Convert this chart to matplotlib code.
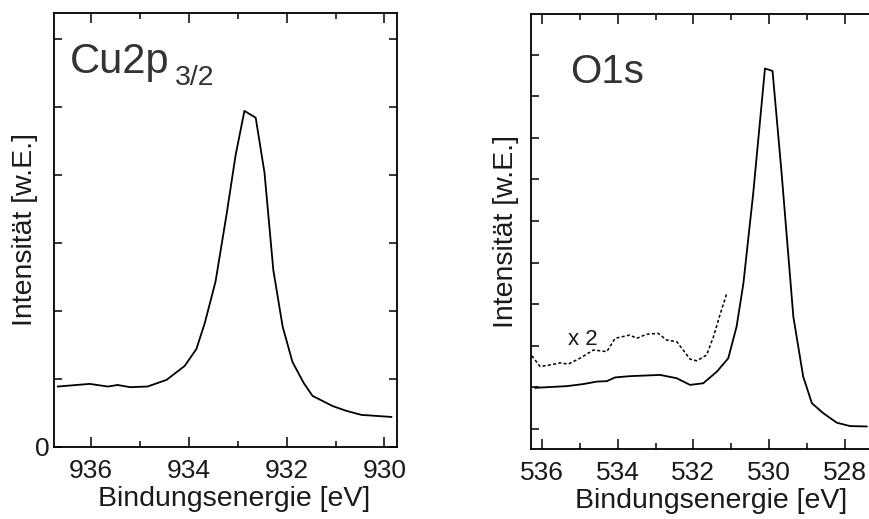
import numpy as np
import matplotlib
matplotlib.use('Agg')
import matplotlib.pyplot as plt
from matplotlib.ticker import MultipleLocator, FixedLocator, NullFormatter

plt.rcParams['font.family'] = ['Liberation Sans', 'DejaVu Sans']

# Cu2p3/2 spectrum
cu_energy = [936.67, 936.02, 935.65, 935.45, 935.2, 934.84, 934.45, 934.08, 933.84,
             933.67, 933.45, 933.22, 933.04, 932.86, 932.63, 932.45, 932.27, 932.08,
             931.88, 931.65, 931.47, 931.06, 930.78, 930.47, 929.86]
cu_int = [0.887, 0.926, 0.887, 0.91, 0.878, 0.887, 0.985, 1.19, 1.44,
          1.82, 2.43, 3.44, 4.29, 4.94, 4.84, 4.03, 2.60, 1.77,
          1.25, 0.94, 0.75, 0.60, 0.53, 0.47, 0.44]

# O1s spectrum
o_energy = [536.18, 535.35, 534.91, 534.55, 534.29, 534.07, 533.68, 532.88, 532.44,
            532.09, 531.74, 531.38, 531.08, 530.86, 530.68, 530.42, 530.11, 529.91,
            529.67, 529.36, 529.10, 528.87, 528.57, 528.21, 527.86, 527.42]
o_int = [1.47, 1.51, 1.56, 1.62, 1.63, 1.72, 1.75, 1.78, 1.70,
         1.54, 1.58, 1.86, 2.18, 2.94, 3.98, 6.15, 9.15, 9.09,
         6.63, 3.18, 1.74, 1.10, 0.86, 0.63, 0.55, 0.54]

# O1s satellite region, scaled x2
o2_energy = [536.27, 536.05, 535.79, 535.52, 535.31, 535.0, 534.64, 534.29, 534.07,
             533.68, 533.50, 533.23, 532.93, 532.71, 532.44, 532.09, 531.91, 531.65,
             531.47, 531.30, 531.12]
o2_int = [2.24, 1.98, 2.02, 2.07, 2.04, 2.18, 2.38, 2.34, 2.66,
          2.74, 2.66, 2.76, 2.78, 2.62, 2.58, 2.16, 2.12, 2.26,
          2.70, 3.22, 3.74]

txt = '#1a1a1a'
fig = plt.figure(figsize=(8.7, 5.19), dpi=100)


def style(ax, xlab_x, ylab_x, right=True):
    for s in ax.spines.values():
        s.set_linewidth(1.3)
    ax.tick_params(which='both', direction='in', top=True, right=right,
                   labelsize=19, colors='black', labelcolor=txt, width=1.1)
    ax.tick_params(which='major', length=7, pad=9)
    ax.tick_params(which='minor', length=4)
    ax.tick_params(axis='y', which='major', length=6)
    ax.set_xlabel('Bindungsenergie [eV]', fontsize=20.5, color=txt, labelpad=2)
    ax.xaxis.label.set_x(xlab_x)
    ax.set_ylabel('Intensität [w.E.]', fontsize=20.5, color=txt)
    ax.yaxis.set_label_coords(ylab_x, 0.5)


# left panel
ax1 = fig.add_axes([0.062, 0.139, 0.394, 0.836])
ax1.plot(cu_energy, cu_int, color='black', lw=1.3)
ax1.set_xlim(936.75, 929.75)
ax1.set_ylim(0, 6.38)
ax1.xaxis.set_major_locator(MultipleLocator(2))
ax1.xaxis.set_minor_locator(MultipleLocator(1))
style(ax1, 0.527, -0.047)
ax1.set_yticks([0, 1, 2, 3, 4, 5, 6])
ax1.set_yticklabels(['0', '', '', '', '', '', ''])
ax1.tick_params(axis='y', pad=3)
ax1.text(0.047, 0.862, 'Cu2p', transform=ax1.transAxes, fontsize=30,
         color='#333333', va='baseline', ha='left')
ax1.text(0.353, 0.834, '3/2', transform=ax1.transAxes, fontsize=20.5,
         color='#333333', va='baseline', ha='left')

# right panel (cut off at the right edge, no right spine visible)
ax2 = fig.add_axes([0.610, 0.135, 0.3915, 0.838])
ax2.plot(o_energy, o_int, color='black', lw=1.3)
ax2.plot(o2_energy, o2_int, color='black', lw=1.1, ls=(0, (2, 1.5)))
ax2.set_xlim(536.3, 527.3)
ax2.set_ylim(0, 10.46)
ax2.xaxis.set_major_locator(MultipleLocator(2))
ax2.xaxis.set_minor_locator(MultipleLocator(1))
ax2.yaxis.set_major_locator(FixedLocator(np.arange(0.48, 10.0, 1.0)))
ax2.yaxis.set_major_formatter(NullFormatter())
style(ax2, 0.529, -0.035, right=False)
ax2.spines['right'].set_visible(False)
ax2.text(534.93, 2.64, 'x 2', fontsize=16, color=txt, ha='center', va='center')
ax2.text(0.115, 0.841, 'O1s', transform=ax2.transAxes, fontsize=29,
         color='#333333', va='baseline', ha='left')

fig.savefig('out.png', dpi=100)
